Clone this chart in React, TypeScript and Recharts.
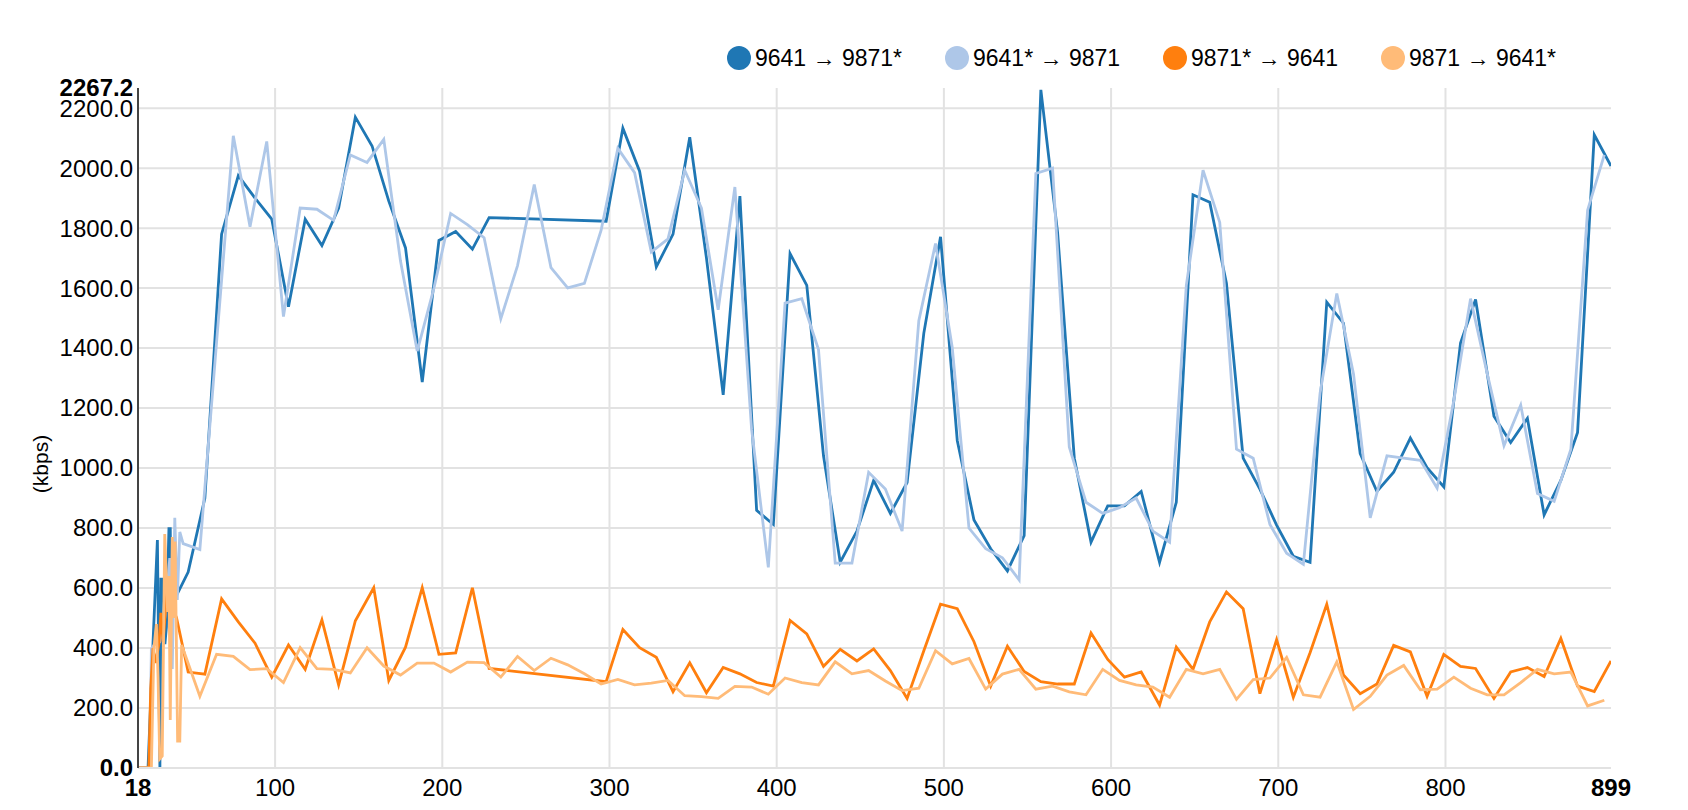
import React from "react";
import {
  LineChart,
  Line,
  XAxis,
  YAxis,
  CartesianGrid,
} from "recharts";

// 9641 -> 9871*
const aX = [18, 24, 27, 29.6, 31.1, 31.7, 32.9, 34.1, 35, 36.5, 37.3, 37.7, 41, 48, 58, 68, 78, 88, 98, 108, 118, 128, 138, 148, 158, 168, 178, 188, 198, 208, 218, 228, 298, 308, 318, 328, 338, 348, 358, 368, 378, 388, 398, 408, 418, 428, 438, 448, 458, 468, 478, 488, 498, 508, 518, 528, 538, 548, 558, 568, 578, 588, 598, 608, 618, 629, 639, 649, 659, 669, 679, 689, 699, 709, 719, 729, 739, 749, 759, 769, 779, 789, 799, 809, 818, 829, 839, 849, 859, 869, 879, 889, 899];
const aY = [0, 0, 420, 760, 0, 630, 630, 413, 470, 798, 798, 546, 575, 653, 900, 1780, 1975, 1900, 1830, 1538, 1830, 1742, 1867, 2170, 2074, 1890, 1734, 1287, 1759, 1789, 1730, 1835, 1823, 2133, 1990, 1671, 1780, 2103, 1700, 1244, 1907, 859, 812, 1715, 1609, 1041, 686, 790, 959, 849, 952, 1450, 1771, 1092, 827, 731, 657, 775, 2261, 1786, 1033, 753, 874, 874, 922, 686, 886, 1911, 1886, 1616, 1033, 930, 810, 706, 686, 1553, 1483, 1048, 922, 986, 1100, 1001, 937, 1417, 1562, 1173, 1085, 1166, 844, 959, 1119, 2111, 2007];

// 9641* -> 9871
const bX = [18, 25, 26, 28, 31, 34, 37, 38.5, 40, 41.5, 43, 45, 55, 65, 75, 85, 95, 105, 115, 125, 135, 145, 155, 165, 175, 185, 195, 205, 215, 225, 235, 245, 255, 265, 275, 285, 295, 305, 315, 325, 335, 345, 355, 365, 375, 385, 395, 405, 415, 425, 435, 445, 455, 465, 475, 485, 495, 505, 515, 525, 535, 545, 555, 565, 575, 585, 595, 605, 615, 625, 635, 645, 655, 665, 675, 685, 695, 705, 715, 725, 735, 745, 755, 765, 775, 785, 795, 805, 815, 825, 835, 845, 855, 865, 875, 885, 895];
const bY = [0, 0, 398, 413, 420, 500, 700, 330, 834, 560, 787, 748, 728, 1420, 2108, 1805, 2089, 1505, 1867, 1863, 1826, 2044, 2019, 2096, 1690, 1390, 1600, 1849, 1812, 1768, 1498, 1675, 1945, 1668, 1601, 1616, 1793, 2066, 1985, 1720, 1764, 1993, 1867, 1528, 1937, 1129, 669, 1550, 1565, 1395, 683, 683, 986, 930, 790, 1491, 1749, 1402, 800, 731, 701, 627, 1982, 2000, 1070, 886, 849, 868, 900, 790, 753, 1609, 1993, 1819, 1063, 1033, 812, 716, 679, 1250, 1582, 1314, 834, 1041, 1033, 1026, 933, 1225, 1565, 1314, 1075, 1210, 915, 889, 1063, 1860, 2044];

// 9871* -> 9641
const cX = [18, 24.5, 25.6, 27, 28.5, 30.5, 31.7, 33, 35.7, 36.5, 37.5, 41, 48, 58, 68, 78, 88, 98, 108, 118, 128, 138, 148, 159, 168, 178, 188, 198, 208, 218, 228, 298, 308, 318, 328, 338, 348, 358, 368, 378, 388, 398, 408, 418, 428, 438, 448, 458, 468, 478, 488, 498, 508, 518, 528, 538, 548, 558, 568, 578, 588, 598, 608, 618, 629, 639, 649, 659, 669, 679, 689, 699, 709, 719, 729, 739, 749, 759, 769, 779, 789, 799, 809, 818, 829, 839, 849, 859, 869, 879, 889, 899];
const cY = [0, 0, 266, 400, 350, 413, 517, 420, 620, 540, 546, 502, 320, 313, 564, 487, 416, 303, 410, 329, 494, 277, 491, 601, 292, 403, 601, 379, 384, 601, 332, 288, 462, 401, 369, 254, 351, 251, 335, 314, 285, 273, 492, 447, 339, 396, 357, 397, 325, 232, 391, 546, 531, 421, 273, 406, 322, 288, 280, 280, 450, 362, 303, 320, 210, 403, 329, 487, 587, 531, 248, 428, 236, 384, 546, 310, 248, 280, 409, 387, 239, 379, 339, 332, 232, 320, 335, 305, 432, 273, 255, 357];

// 9871 -> 9641*
const dX = [18, 26, 27.5, 29, 30, 31, 32.5, 34, 35.7, 36.5, 37.3, 38.5, 39.3, 40.2, 41.7, 43, 44.1, 55, 65, 75, 85, 95, 105, 115, 125, 135, 145, 155, 165, 175, 185, 195, 205, 215, 225, 235, 245, 255, 265, 275, 285, 295, 305, 315, 325, 335, 345, 355, 365, 375, 385, 395, 405, 415, 425, 435, 445, 455, 465, 475, 485, 495, 505, 515, 525, 535, 545, 555, 565, 575, 585, 595, 605, 615, 625, 635, 645, 655, 665, 675, 685, 695, 705, 715, 725, 735, 745, 755, 765, 775, 785, 795, 805, 815, 825, 835, 845, 855, 865, 875, 885, 895];
const dY = [0, 0, 400, 480, 300, 30, 40, 780, 520, 640, 160, 770, 500, 755, 90, 90, 410, 239, 379, 372, 328, 331, 285, 401, 331, 329, 317, 401, 340, 310, 350, 350, 320, 353, 351, 303, 372, 325, 366, 344, 314, 280, 295, 277, 283, 292, 241, 238, 232, 272, 270, 246, 300, 285, 277, 354, 314, 325, 290, 258, 266, 391, 347, 365, 263, 313, 329, 263, 273, 254, 244, 329, 292, 277, 270, 236, 329, 314, 329, 229, 295, 300, 369, 244, 236, 354, 195, 239, 310, 342, 261, 263, 303, 266, 244, 244, 285, 329, 314, 320, 207, 226];

const seriesNames = ["9641 → 9871*", "9641* → 9871", "9871* → 9641", "9871 → 9641*"];
const xTicks = [18, 100, 200, 300, 400, 500, 600, 700, 800, 899];
const yTicks = [0, 200, 400, 600, 800, 1000, 1200, 1400, 1600, 1800, 2000, 2200, 2267.2];
const gridX = [100, 200, 300, 400, 500, 600, 700, 800];
const gridY = [200, 400, 600, 800, 1000, 1200, 1400, 1600, 1800, 2000, 2200];

const colors = ["#1f77b4", "#aec7e8", "#ff7f0e", "#ffbb78"];
const FONT = "'Liberation Sans', Arial, sans-serif";

const toPoints = (xs: number[], ys: number[]) => xs.map((x, i) => ({ x, y: ys[i] }));
const series = [toPoints(aX, aY), toPoints(bX, bY), toPoints(cX, cY), toPoints(dX, dY)];

const xMin = xTicks[0];
const xMax = xTicks[xTicks.length - 1];
const yMax = yTicks[yTicks.length - 1];

function XTick(props: any) {
  const { x, y, payload } = props;
  const edge = payload.value === xMin || payload.value === xMax;
  return (
    <text x={x} y={y} dy="0.71em" textAnchor="middle" fontSize={24} fontFamily={FONT}
      fontWeight={edge ? 700 : 400} fill="#000">
      {payload.value}
    </text>
  );
}

function YTick(props: any) {
  const { x, y, payload } = props;
  const edge = payload.value === 0 || payload.value === yMax;
  return (
    <text x={x} y={y} dy="0.35em" textAnchor="end" fontSize={24} fontFamily={FONT}
      fontWeight={edge ? 700 : 400} fill="#000">
      {payload.value.toFixed(1)}
    </text>
  );
}

function ChartLegend() {
  return (
    <div style={{ position: "absolute", top: 46, left: 727, display: "flex", fontFamily: FONT, fontSize: 23, color: "#000" }}>
      {seriesNames.map((name, i) => (
        <div key={name} style={{ display: "flex", alignItems: "center", width: 218, height: 24 }}>
          <span style={{ width: 24, height: 24, borderRadius: "50%", background: colors[i], marginRight: 4, display: "inline-block" }} />
          <span>{name}</span>
        </div>
      ))}
    </div>
  );
}

export default function App() {
  return (
    <div style={{ position: "relative", width: 1688, height: 810 }}>
      <style>{"body{margin:0}"}</style>
      <LineChart width={1688} height={810} margin={{ top: 88, right: 77, left: 0, bottom: 2 }}>
        <CartesianGrid stroke="#e2e2e2" strokeWidth={2} horizontalValues={gridY} verticalValues={gridX} />
        <XAxis type="number" dataKey="x" domain={[xMin, xMax]} ticks={xTicks} interval={0} allowDataOverflow
          height={40} tickSize={0} tickMargin={11} tick={<XTick />} stroke="#e2e2e2" strokeWidth={2} />
        <YAxis type="number" dataKey="y" domain={[0, yMax]} ticks={yTicks} interval={0} allowDataOverflow
          width={138} tickSize={0} tickMargin={5} tick={<YTick />} stroke="#444" strokeWidth={2}
          label={{
            content: () => (
              <text x={40} y={464} transform="rotate(-90 40 464)" textAnchor="middle" dominantBaseline="central"
                fontSize={21} fontFamily={FONT} fill="#000">(kbps)</text>
            ),
          }} />
        {series.map((pts, i) => (
          <Line key={seriesNames[i]} data={pts} dataKey="y" name={seriesNames[i]} type="linear"
            stroke={colors[i]} strokeWidth={2.8} dot={false} activeDot={false} isAnimationActive={false} />
        ))}
      </LineChart>
      <ChartLegend />
    </div>
  );
}
